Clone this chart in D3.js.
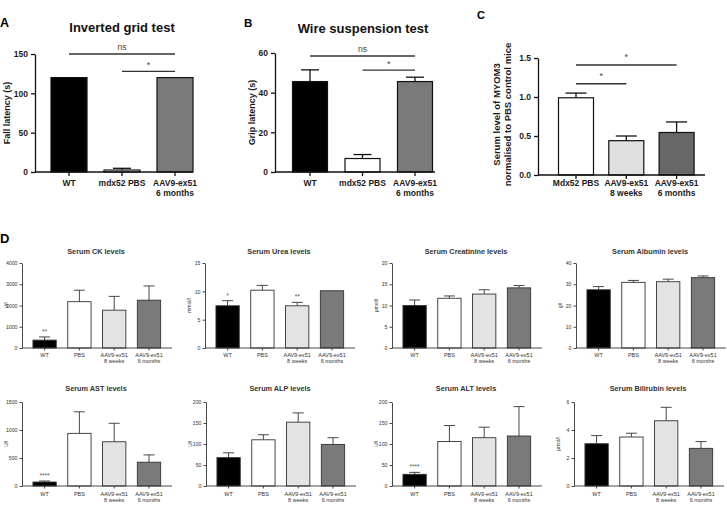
<!DOCTYPE html>
<html><head><meta charset="utf-8">
<script src="https://cdn.jsdelivr.net/npm/d3@7"></script>
<style>body{margin:0;background:#fff} svg{display:block;font-family:"Liberation Sans",Arial,sans-serif}</style>
</head><body><svg id="c" width="727" height="510"></svg>
<script>
// ---------- DATA ----------
const catsAB = ["WT", "mdx52 PBS", "AAV9-ex51\n6 months"];
const fallLatency = [120, 2.5, 120];
const fallLatencySem = [0, 2.2, 0];
const fallTicks = [0, 50, 100, 150];
const sigFall = [{a: 0, b: 2, y: 150, label: "ns"}, {a: 1, b: 2, y: 128, label: "*"}];

const gripLatency = [45.6, 6.8, 45.6];
const gripLatencySem = [5.9, 2.0, 2.2];
const gripTicks = [0, 20, 40, 60];
const sigGrip = [{a: 0, b: 2, y: 58.5, label: "ns"}, {a: 1, b: 2, y: 51.4, label: "*"}];

const catsC = ["Mdx52 PBS", "AAV9-ex51\n8 weeks", "AAV9-ex51\n6 months"];
const myom3 = [0.99, 0.44, 0.545];
const myom3Sem = [0.06, 0.06, 0.135];
const myom3Ticks = [0, 0.5, 1.0, 1.5];
const sigMyom3 = [{a: 0, b: 2, y: 1.41, label: "*"}, {a: 0, b: 1, y: 1.17, label: "*"}];

const catsD = ["WT", "PBS", "AAV9-ex51\n8 weeks", "AAV9-ex51\n6 months"];
const ck = [370, 2180, 1780, 2250],        ckSem = [150, 540, 650, 670],   ckTicks = [0, 1000, 2000, 3000, 4000], ckStars = ["**", "", "", ""];
const urea = [7.45, 10.2, 7.45, 10.1],     ureaSem = [0.9, 0.85, 0.6, 0],  ureaTicks = [0, 5, 10, 15],            ureaStars = ["*", "", "**", ""];
const creat = [10.0, 11.7, 12.7, 14.15],   creatSem = [1.3, 0.55, 1.0, 0.55], creatTicks = [0, 5, 10, 15, 20],    creatStars = ["", "", "", ""];
const albumin = [27.4, 30.9, 31.2, 33.1],  albuminSem = [1.5, 0.9, 1.2, 0.8], albuminTicks = [0, 10, 20, 30, 40], albuminStars = ["", "", "", ""];
const ast = [71, 940, 790, 425],           astSem = [18, 385, 330, 130],   astTicks = [0, 500, 1000, 1500],       astStars = ["****", "", "", ""];
const alp = [67.5, 110, 152, 99],          alpSem = [11.5, 12, 22, 16],    alpTicks = [0, 50, 100, 150, 200],     alpStars = ["", "", "", ""];
const alt = [27.8, 106, 115, 119],         altSem = [4.7, 38, 25, 70],     altTicks = [0, 50, 100, 150, 200],     altStars = ["****", "", "", ""];
const bili = [3.02, 3.5, 4.66, 2.69],      biliSem = [0.58, 0.27, 0.96, 0.48], biliTicks = [0, 2, 4, 6],         biliStars = ["", "", "", ""];

const colorsAB = ["#000000", "#ffffff", "#7a7a7a"];
const colorsC = ["#ffffff", "#e0e0e0", "#676767"];
const colorsD = ["#000000", "#ffffff", "#e3e3e3", "#7a7a7a"];

// ---------- DRAW ----------
const svg = d3.select("#c");

function barPanel(c) {
  const g = svg.append("g");
  const n = c.cats.length;
  const W = 2 * (c.firstC - c.x0) + (n - 1) * c.step;
  const p = 1 - c.bw / c.step;
  const o = (W / c.step - n + p) / 2;
  const x = d3.scaleBand().domain(c.cats).range([c.x0, c.x0 + W]).paddingInner(p).paddingOuter(o);
  const y = d3.scaleLinear().domain([0, c.max]).range([c.yBot, c.yTop]);
  const cx = i => x(c.cats[i]) + x.bandwidth() / 2;

  // error bars (upper only)
  const eb = g.append("g").attr("stroke", c.ink).attr("stroke-width", c.ebW);
  c.vals.forEach((v, i) => {
    if (!c.sems[i]) return;
    eb.append("line").attr("x1", cx(i)).attr("x2", cx(i)).attr("y1", y(v)).attr("y2", y(v + c.sems[i]));
    eb.append("line").attr("x1", cx(i) - c.capW / 2).attr("x2", cx(i) + c.capW / 2)
      .attr("y1", y(v + c.sems[i])).attr("y2", y(v + c.sems[i]));
  });
  // bars
  g.append("g").selectAll("rect").data(c.vals).join("rect")
    .attr("x", (d, i) => x(c.cats[i])).attr("y", d => y(d))
    .attr("width", x.bandwidth()).attr("height", d => c.yBot - y(d))
    .attr("fill", (d, i) => c.colors[i]).attr("stroke", c.ink).attr("stroke-width", c.barSW);

  // y axis
  const yg = g.append("g").attr("transform", `translate(${c.x0},0)`)
    .call(d3.axisLeft(y).tickValues(c.ticks).tickFormat(c.fmt).tickSize(c.tickSize).tickSizeOuter(0).tickPadding(c.tickPad));
  yg.selectAll("path,line").attr("stroke", c.ink).attr("stroke-width", c.axW);
  yg.selectAll("text").attr("font-size", c.tickFont).attr("font-weight", c.weight).attr("fill", c.txt).attr("font-family", null);

  // x axis
  const xg = g.append("g").attr("transform", `translate(0,${c.yBot})`)
    .call(d3.axisBottom(x).tickSize(c.tickSize).tickFormat(""));
  xg.select(".domain").remove();
  xg.selectAll("line").attr("stroke", c.ink).attr("stroke-width", c.axW);
  xg.append("line").attr("x1", c.x0).attr("x2", c.x1).attr("stroke", c.ink).attr("stroke-width", c.axW);

  // category labels
  g.append("g").selectAll("text").data(c.cats).join("text")
    .attr("text-anchor", "middle").attr("font-size", c.catFont).attr("font-weight", c.weight).attr("fill", c.txt)
    .attr("transform", d => `translate(${x(d) + x.bandwidth() / 2},${c.yBot + c.catDy})`)
    .each(function (d) {
      d.split("\n").forEach((s, k) => d3.select(this).append("tspan").attr("x", 0).attr("y", k * c.lineH).text(s));
    });

  // significance lines
  (c.sig || []).forEach(s => {
    const yy = y(s.y);
    g.append("line").attr("x1", cx(s.a)).attr("x2", cx(s.b)).attr("y1", yy).attr("y2", yy)
      .attr("stroke", "#333").attr("stroke-width", 1.3);
    g.append("text").attr("x", (cx(s.a) + cx(s.b)) / 2).attr("y", yy - (s.label === "*" ? c.starOff : 4))
      .attr("text-anchor", "middle").attr("font-size", s.label === "*" ? c.starFont : c.tickFont)
      .attr("fill", "#444").text(s.label);
  });
  // stars above bars
  (c.stars || []).forEach((s, i) => {
    if (!s) return;
    g.append("text").attr("x", cx(i)).attr("y", y(c.vals[i] + c.sems[i]) - 3).attr("text-anchor", "middle")
      .attr("font-size", 6.5).attr("fill", "#555").text(s);
  });

  // title
  if (c.title) g.append("text").attr("x", c.titleX).attr("y", c.titleY).attr("text-anchor", "middle")
    .attr("font-size", c.titleFont).attr("font-weight", "bold").attr("fill", c.titleColor).text(c.title);
  // y label
  const lbl = Array.isArray(c.ylabel) ? c.ylabel : [c.ylabel];
  const gap = c.ylabelGap || 0;
  lbl.forEach((t, k) => {
    g.append("text").attr("transform", `translate(${c.ylabelX + k * gap},${(c.yTop + c.yBot) / 2 + (c.ylabelDY || 0)}) rotate(-90)`)
      .attr("dy", "0.35em").attr("text-anchor", "middle").attr("font-size", c.ylabelFont)
      .attr("font-weight", c.ylabelWeight).attr("fill", c.txt).text(t);
  });
}

const bigStyle = {ink: "#111", txt: "#1a1a1a", weight: "bold", tickFont: 8.5, catFont: 8.5, lineH: 9.5, catDy: 14,
  tickSize: 4, tickPad: 3, axW: 1.3, barSW: 1.2, ebW: 1.3, capW: 18, titleFont: 13, titleColor: "#111",
  ylabelFont: 9, ylabelWeight: "bold", starFont: 9, starOff: 3};

barPanel(Object.assign({}, bigStyle, {
  x0: 35, x1: 193, firstC: 69, step: 53, bw: 36, yTop: 54, yBot: 172, max: 150,
  ticks: fallTicks, fmt: d3.format("d"), cats: catsAB, vals: fallLatency, sems: fallLatencySem, colors: colorsAB,
  sig: sigFall, title: "Inverted grid test", titleX: 122, titleY: 32, ylabel: "Fall latency (s)", ylabelX: 7}));

barPanel(Object.assign({}, bigStyle, {
  x0: 275, x1: 435, firstC: 310, step: 52.5, bw: 35, yTop: 53, yBot: 172, max: 60,
  ticks: gripTicks, fmt: d3.format("d"), cats: catsAB, vals: gripLatency, sems: gripLatencySem, colors: colorsAB,
  sig: sigGrip, title: "Wire suspension test", titleX: 363, titleY: 33, ylabel: "Grip latency (s)", ylabelX: 252}));

barPanel(Object.assign({}, bigStyle, {
  x0: 538, x1: 705, firstC: 576, step: 50.3, bw: 35, yTop: 58, yBot: 175, max: 1.5, catDy: 11, capW: 21,
  ticks: myom3Ticks, fmt: d3.format(".1f"), cats: catsC, vals: myom3, sems: myom3Sem, colors: colorsC,
  sig: sigMyom3, starOff: 5, ylabel: ["Serum level of MYOM3", "normalised to PBS control mice"],
  ylabelX: 497, ylabelGap: 10.5, ylabelFont: 9.5, ylabelDY: -2}));

const smallStyle = {ink: "#333", txt: "#333", weight: "normal", tickFont: 5.2, catFont: 5.5, lineH: 6.2, catDy: 9,
  tickSize: 2.5, tickPad: 2, axW: 0.9, barSW: 0.9, ebW: 0.9, capW: 11, titleFont: 7.3, titleColor: "#333",
  ylabelFont: 5, ylabelWeight: "normal", firstC: 0, step: 34.8, bw: 23.3, max: 1};

const dPanels = [
  {x0: 22, row: 0, title: "Serum CK levels", unit: "U/l", vals: ck, sems: ckSem, ticks: ckTicks, stars: ckStars},
  {x0: 205, row: 0, title: "Serum Urea levels", unit: "mmol/l", vals: urea, sems: ureaSem, ticks: ureaTicks, stars: ureaStars},
  {x0: 392, row: 0, title: "Serum Creatinine levels", unit: "μmol/l", vals: creat, sems: creatSem, ticks: creatTicks, stars: creatStars},
  {x0: 576, row: 0, title: "Serum Albumin levels", unit: "g/l", vals: albumin, sems: albuminSem, ticks: albuminTicks, stars: albuminStars},
  {x0: 22, row: 1, title: "Serum AST levels", unit: "U/l", vals: ast, sems: astSem, ticks: astTicks, stars: astStars},
  {x0: 206, row: 1, title: "Serum ALP levels", unit: "U/l", vals: alp, sems: alpSem, ticks: alpTicks, stars: alpStars},
  {x0: 392, row: 1, title: "Serum ALT levels", unit: "U/l", vals: alt, sems: altSem, ticks: altTicks, stars: altStars},
  {x0: 574, row: 1, title: "Serum Bilirubin levels", unit: "μmol/l", vals: bili, sems: biliSem, ticks: biliTicks, stars: biliStars}
];
const rows = [{yTop: 263, yBot: 348, titleY: 253.5, catDy: 9}, {yTop: 402, yBot: 486, titleY: 390.5, catDy: 9.8}];
dPanels.forEach(d => {
  const r = rows[d.row];
  barPanel(Object.assign({}, smallStyle, {
    x0: d.x0, x1: d.x0 + 150, firstC: d.x0 + 22.6, yTop: r.yTop, yBot: r.yBot, max: d3.max(d.ticks),
    ticks: d.ticks, fmt: d3.format("d"), cats: catsD, vals: d.vals, sems: d.sems, colors: colorsD, stars: d.stars,
    catDy: r.catDy, title: d.title, titleX: d.x0 + 74, titleY: r.titleY, ylabel: d.unit, ylabelX: d.x0 - 16}));
});

// panel letters
[["A", 0, 27, 12.5], ["B", 244, 27, 11.5], ["C", 477, 19, 11], ["D", 0, 243, 13]].forEach(([t, x, y, s]) => {
  svg.append("text").attr("x", x).attr("y", y).attr("font-size", s).attr("font-weight", "bold").attr("fill", "#000").text(t);
});
</script>
</body></html>
